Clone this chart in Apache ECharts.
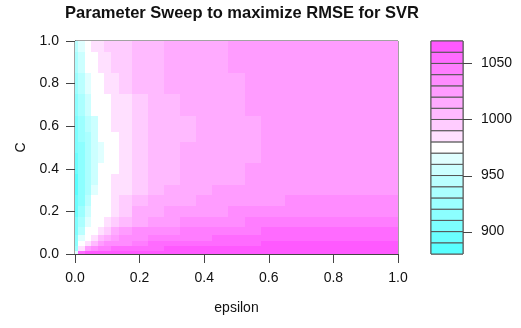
<!DOCTYPE html>
<html>
<head>
<meta charset="utf-8">
<script src="https://cdn.jsdelivr.net/npm/echarts@6/dist/echarts.min.js"></script>
<style>
  html, body { margin: 0; padding: 0; background: #fff; }
  #sweep { width: 521px; height: 328px; }
</style>
</head>
<body>
<div id="sweep"></div>
<script>
// sweep grid (rows follow cost, columns follow epsilon)
var epsilon = [0, 0.02, 0.04, 0.06, 0.08, 0.10, 0.125, 0.15, 0.2, 0.25, 0.3, 0.35, 0.4, 0.45, 0.5, 0.55, 0.6, 0.7, 0.8, 0.9, 1.0];
var cost = [0, 0.025, 0.05, 0.075, 0.1, 0.15, 0.2, 0.25, 0.3, 0.35, 0.4, 0.45, 0.5, 0.55, 0.6, 0.7, 0.8, 0.9, 1.0];
var rmse = [
  [965, 1050, 1060, 1062, 1063, 1063, 1064, 1064, 1065, 1065, 1066, 1066, 1066, 1067, 1067, 1067, 1067, 1068, 1068, 1068, 1068],
  [928, 986, 1022, 1034, 1040, 1045, 1050, 1052, 1056, 1059, 1060, 1061, 1062, 1062, 1062, 1063, 1063, 1064, 1064, 1065, 1065],
  [918, 972, 986, 1007, 1022, 1030, 1035, 1039, 1045, 1050, 1052, 1053, 1055, 1056, 1058, 1059, 1060, 1061, 1061, 1062, 1062],
  [912, 960, 976, 986, 1001, 1013, 1023, 1030, 1036, 1041, 1044, 1047, 1049, 1051, 1051, 1052, 1053, 1054, 1055, 1057, 1058],
  [907, 946, 972, 978, 986, 997, 1010, 1020, 1030, 1035, 1039, 1042, 1043, 1045, 1047, 1049, 1050, 1051, 1052, 1053, 1054],
  [900, 933, 967, 974, 979, 985, 994, 1003, 1018, 1024, 1028, 1031, 1034, 1036, 1038, 1040, 1041, 1042, 1043, 1045, 1046],
  [895, 923, 952, 971, 975, 979, 988, 996, 1010, 1016, 1021, 1024, 1026, 1028, 1030, 1031, 1032, 1034, 1036, 1037, 1039],
  [891, 917, 943, 970, 974, 978, 985, 992, 1003, 1011, 1015, 1019, 1021, 1023, 1025, 1027, 1028, 1031, 1032, 1033, 1034],
  [888, 913, 938, 962, 973, 977, 982, 989, 999, 1006, 1011, 1014, 1018, 1020, 1021, 1022, 1023, 1025, 1026, 1028, 1029],
  [887, 910, 933, 956, 972, 975, 980, 987, 997, 1003, 1009, 1012, 1015, 1017, 1019, 1021, 1022, 1023, 1025, 1026, 1028],
  [891, 912, 932, 953, 971, 974, 979, 985, 995, 1002, 1007, 1011, 1013, 1016, 1018, 1020, 1021, 1022, 1024, 1025, 1027],
  [896, 914, 932, 950, 968, 974, 979, 985, 994, 1001, 1006, 1010, 1012, 1015, 1017, 1019, 1020, 1021, 1023, 1024, 1026],
  [900, 917, 933, 950, 967, 973, 979, 985, 994, 1001, 1005, 1010, 1012, 1014, 1016, 1018, 1020, 1021, 1023, 1024, 1026],
  [905, 921, 938, 954, 970, 974, 979, 986, 995, 1001, 1005, 1009, 1011, 1014, 1016, 1018, 1020, 1021, 1022, 1024, 1025],
  [909, 925, 942, 958, 971, 976, 981, 987, 996, 1002, 1006, 1009, 1012, 1014, 1016, 1019, 1020, 1021, 1022, 1024, 1025],
  [918, 935, 953, 970, 974, 978, 984, 989, 998, 1003, 1008, 1011, 1013, 1016, 1018, 1020, 1021, 1021, 1022, 1023, 1024],
  [927, 947, 967, 973, 977, 981, 986, 991, 1000, 1005, 1010, 1012, 1015, 1017, 1019, 1020, 1021, 1021, 1022, 1023, 1024],
  [935, 954, 971, 976, 981, 985, 990, 994, 1001, 1006, 1010, 1013, 1015, 1018, 1020, 1020, 1021, 1021, 1022, 1022, 1023],
  [942, 962, 974, 981, 985, 990, 993, 997, 1002, 1007, 1011, 1013, 1016, 1019, 1020, 1020, 1021, 1021, 1022, 1022, 1023]
];
var levels = [880, 890, 900, 910, 920, 930, 940, 950, 960, 970, 980, 990, 1000, 1010, 1020, 1030, 1040, 1050, 1060, 1070];
var keyTicks = [900, 950, 1000, 1050];
var bandColors = ['#59FFFF', '#6BFFFF', '#7DFFFF', '#8CFFFF', '#9CFFFF', '#ABFFFF', '#BAFFFF', '#CCFFFF', '#E0FFFF', '#FFFFFF',
                  '#FFE0FF', '#FFCCFF', '#FFBAFF', '#FFABFF', '#FF9CFF', '#FF8CFF', '#FF7DFF', '#FF6BFF', '#FF59FF'];

// cell borders halfway between grid nodes
function edges(v) {
  var e = [v[0]];
  for (var k = 1; k < v.length; k++) e.push((v[k - 1] + v[k]) / 2);
  e.push(v[v.length - 1]);
  return e;
}
var epsEdges = edges(epsilon);
var costEdges = edges(cost);

var cells = [];
cost.forEach(function (c, j) {
  epsilon.forEach(function (e, i) {
    cells.push([e, c, rmse[j][i], i, j]);
  });
});

var pieces = [];
var bands = [];
for (var k = 0; k < levels.length - 1; k++) {
  pieces.push({ gte: levels[k], lt: levels[k + 1], color: bandColors[k] });
  bands.push([levels[k], levels[k + 1], k]);
}

var txt = '#111';
var frame = '#444';
var chart = echarts.init(document.getElementById('sweep'));

var option = {
  animation: false,
  textStyle: { fontFamily: 'Liberation Sans, Arial, sans-serif' },
  title: {
    text: 'Parameter Sweep to maximize RMSE for SVR',
    left: 237,
    top: 0,
    textAlign: 'center',
    textStyle: { fontSize: 16.5, fontWeight: 'bold', color: txt, fontFamily: 'Liberation Sans, Arial, sans-serif' }
  },
  grid: [
    { left: 75, top: 41, width: 323, height: 213, show: true, borderColor: frame, borderWidth: 1, backgroundColor: 'transparent' },
    { left: 431, top: 41, width: 32, height: 213, show: true, borderColor: frame, borderWidth: 1, backgroundColor: 'transparent' }
  ],
  visualMap: {
    type: 'piecewise',
    show: false,
    dimension: 2,
    seriesIndex: 0,
    pieces: pieces
  },
  xAxis: [
    {
      gridIndex: 0, type: 'value', min: 0, max: 1, interval: 0.2,
      name: 'epsilon', nameLocation: 'middle', nameGap: 47,
      nameTextStyle: { fontSize: 14, color: txt },
      axisLine: { show: true, lineStyle: { color: frame } },
      axisTick: { show: true, length: 9, lineStyle: { color: frame } },
      axisLabel: { fontSize: 14, color: txt, margin: 17, formatter: function (v) { return v.toFixed(1); } },
      splitLine: { show: false }
    },
    {
      gridIndex: 1, type: 'value', min: 0, max: 1, show: false
    }
  ],
  yAxis: [
    {
      gridIndex: 0, type: 'value', min: 0, max: 1, interval: 0.2,
      name: 'C', nameLocation: 'middle', nameGap: 47, nameRotate: 90,
      nameTextStyle: { fontSize: 14, color: txt },
      axisLine: { show: true, lineStyle: { color: frame } },
      axisTick: { show: true, length: 9, lineStyle: { color: frame } },
      axisLabel: { fontSize: 14, color: txt, margin: 16, formatter: function (v) { return v.toFixed(1); } },
      splitLine: { show: false }
    },
    {
      gridIndex: 1, type: 'value', min: 880, max: 1070, position: 'right',
      axisLine: { show: false },
      axisTick: { show: false },
      axisLabel: { fontSize: 14, color: txt, margin: 18, customValues: keyTicks, formatter: function (v) { return String(v); } },
      splitLine: { show: false }
    }
  ],
  series: [
    {
      type: 'custom',
      xAxisIndex: 0,
      yAxisIndex: 0,
      encode: { x: 0, y: 1 },
      data: cells,
      renderItem: function (params, api) {
        var i = api.value(3), j = api.value(4);
        var a = api.coord([epsEdges[i], costEdges[j + 1]]);
        var b = api.coord([epsEdges[i + 1], costEdges[j]]);
        var x0 = Math.round(a[0]), y0 = Math.round(a[1]);
        var x1 = Math.round(b[0]), y1 = Math.round(b[1]);
        return {
          type: 'rect',
          shape: { x: x0, y: y0, width: x1 - x0, height: y1 - y0 },
          style: { fill: api.visual('color') }
        };
      }
    },
    {
      type: 'custom',
      xAxisIndex: 1,
      yAxisIndex: 1,
      encode: { y: [0, 1] },
      data: bands,
      renderItem: function (params, api) {
        var lo = api.value(0);
        var a = api.coord([0, api.value(1)]);
        var b = api.coord([1, lo]);
        var kids = [{
          type: 'rect',
          shape: { x: a[0], y: a[1], width: b[0] - a[0], height: b[1] - a[1] },
          style: { fill: bandColors[api.value(2)], stroke: '#555', lineWidth: 1 }
        }];
        if (keyTicks.indexOf(lo) >= 0) {
          var y = Math.round(b[1]) + 0.5;
          kids.push({
            type: 'line',
            shape: { x1: b[0], y1: y, x2: b[0] + 9, y2: y },
            style: { stroke: frame, lineWidth: 1 }
          });
        }
        return { type: 'group', children: kids };
      }
    }
  ]
};

chart.setOption(option);
</script>
</body>
</html>
